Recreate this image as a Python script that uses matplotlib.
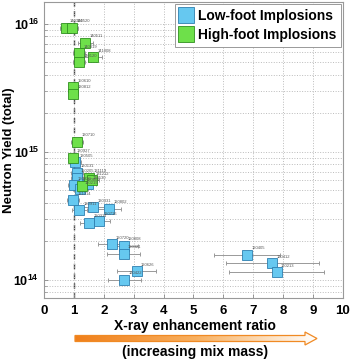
import numpy as np
import matplotlib.pyplot as plt
from matplotlib.patches import Polygon
from matplotlib.lines import Line2D
from matplotlib.colors import LinearSegmentedColormap

plt.rcParams['font.family'] = ['Liberation Sans', 'DejaVu Sans']
plt.rcParams['mathtext.fontset'] = 'custom'
plt.rcParams['mathtext.rm'] = 'Liberation Sans:bold'
plt.rcParams['mathtext.bf'] = 'Liberation Sans:bold'

# Low-foot shots (blue)
low_shots = ['130505', '120131', '120205', '130530', '120920', '130219',
             '121014', '120911', '130331', '120802', '120716', '120311',
             '120720', '120808', '120321', '120626', '120422',
             '120405', '120412', '120213']
low_ratio = [1.05, 1.10, 1.10, 1.48, 1.00, 1.22,
             0.98, 1.18, 1.65, 2.19, 1.85, 1.52,
             2.26, 2.66, 2.66, 3.10, 2.69,
             6.80, 7.64, 7.78]
low_err = [0.20, 0.20, 0.20, 0.25, 0.20, 0.25,
           0.20, 0.25, 0.35, 0.40, 0.35, 0.30,
           0.45, 0.50, 0.55, 0.65, 0.55,
           1.10, 1.55, 1.60]
low_yield = [8.3e14, 6.9e14, 6.3e14, 5.6e14, 5.5e14, 5.1e14,
             4.2e14, 3.5e14, 3.7e14, 3.6e14, 2.9e14, 2.8e14,
             1.9e14, 1.85e14, 1.6e14, 1.17e14, 1.0e14,
             1.57e14, 1.35e14, 1.15e14]

# High-foot shots (green)
high_shots = ['140304', '140520', '140511', '140819', '141008', '140120',
              '150610', '130812', '130710', '130927', '131119', '131212',
              '130802']
high_ratio = [0.72, 0.95, 1.38, 1.18, 1.65, 1.18,
              0.98, 0.98, 1.12, 0.97, 1.52, 1.60, 1.28]
high_err = [0.20, 0.20, 0.25, 0.20, 0.30, 0.20,
            0.15, 0.15, 0.20, 0.15, 0.25, 0.25, 0.20]
high_yield = [9.3e15, 9.3e15, 7.1e15, 5.9e15, 5.5e15, 5.0e15,
              3.2e15, 2.85e15, 1.2e15, 9.0e14, 6.3e14, 6.0e14, 5.4e14]

blue_face = '#66C8F0'
blue_edge = '#2E7FB0'
green_face = '#6EE04A'
green_edge = '#2F8F1F'

fig = plt.figure(figsize=(3.5, 3.59), dpi=100)
ax = fig.add_axes([0.1257, 0.170, 0.854, 0.8245])

ax.axvline(1, color='#444444', linestyle=(0, (4, 3)), linewidth=1.0, zorder=1)


def draw_group(xs, errs, ys, names, face, edge):
    ax.errorbar(xs, ys, xerr=errs, fmt='none', ecolor='#999999',
                elinewidth=0.7, capsize=1.5, capthick=0.7, zorder=2)
    ax.plot(xs, ys, 's', markersize=7.2, markerfacecolor=face,
            markeredgecolor=edge, markeredgewidth=0.6, linestyle='none',
            zorder=3)
    for x, y, name in zip(xs, ys, names):
        ax.annotate(name, (x, y), xytext=(3, 4), textcoords='offset points',
                    fontsize=3.0, color='#555555', zorder=4)


draw_group(low_ratio, low_err, low_yield, low_shots, blue_face, blue_edge)
draw_group(high_ratio, high_err, high_yield, high_shots, green_face, green_edge)

ax.set_yscale('log')
ax.set_xlim(0, 10)
ax.set_ylim(7.23e13, 1.485e16)
ax.set_xticks(range(0, 11))
ax.set_xticklabels([str(i) for i in range(0, 11)], fontweight='bold', fontsize=9.5)
ax.set_yticks([1e14, 1e15, 1e16])
ax.set_yticklabels([r'$\mathbf{10^{14}}$', r'$\mathbf{10^{15}}$', r'$\mathbf{10^{16}}$'],
                   fontsize=9)
ax.tick_params(direction='in', length=3, width=0.6, color='#888888')
ax.tick_params(axis='x', pad=5)
ax.tick_params(which='minor', direction='in', length=2, width=0.5, color='#888888')
ax.tick_params(axis='y', which='minor', labelleft=False)
ax.grid(True, which='major', axis='x', linestyle=':', color='#bbbbbb', linewidth=0.7)
ax.grid(True, which='both', axis='y', linestyle=':', color='#bbbbbb', linewidth=0.7)
for s in ax.spines.values():
    s.set_color('#999999')
    s.set_linewidth(0.8)

handles = [
    Line2D([], [], marker='s', linestyle='none', markersize=11,
           markerfacecolor=blue_face, markeredgecolor=blue_edge, markeredgewidth=0.6),
    Line2D([], [], marker='s', linestyle='none', markersize=11,
           markerfacecolor=green_face, markeredgecolor=green_edge, markeredgewidth=0.6),
]
leg = ax.legend(handles, ['Low-foot Implosions', 'High-foot Implosions'],
                loc='upper right', fancybox=False, framealpha=1,
                edgecolor='#999999', handlelength=0.9, handletextpad=0.4,
                borderaxespad=0.15, borderpad=0.35, labelspacing=0.35,
                prop={'weight': 'bold', 'size': 10})
leg.get_frame().set_linewidth(0.7)

# axis titles, gradient arrow and caption, placed in pixel coordinates
over = fig.add_axes([0, 0, 1, 1])
over.set_xlim(0, 350)
over.set_ylim(359, 0)
over.axis('off')
over.text(9, 150, 'Neutron Yield (total)', rotation=90, ha='center', va='center',
          fontweight='bold', fontsize=9.5)
over.text(195, 326, 'X-ray enhancement ratio', ha='center', va='center',
          fontweight='bold', fontsize=10)
arrow_pts = [(75, 335.5), (305, 335.5), (305, 332), (317, 338.5), (305, 345),
             (305, 341.5), (75, 341.5)]
arrow = Polygon(arrow_pts, closed=True, facecolor='none', edgecolor='#F08A24',
                linewidth=0.9, zorder=3)
over.add_patch(arrow)
cmap = LinearSegmentedColormap.from_list('fade', ['#F07F1A', '#F8B060', '#FFFFFF'])
grad = np.linspace(0, 1, 256).reshape(1, -1)
img = over.imshow(grad, cmap=cmap, extent=[75, 317, 346, 331], aspect='auto',
                  zorder=2)
img.set_clip_path(arrow)
over.text(195, 352, '(increasing mix mass)', ha='center', va='center',
          fontweight='bold', fontsize=10)

fig.savefig('out.png', dpi=100)
